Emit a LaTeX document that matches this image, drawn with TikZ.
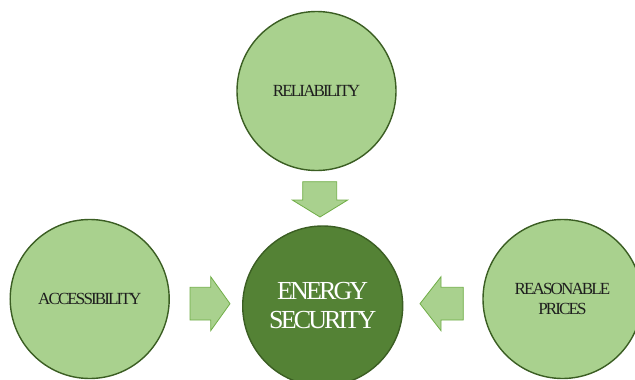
\documentclass[tikz,border=0pt]{standalone}
\usepackage{fontspec}
\setmainfont{Liberation Serif}
\newfontfamily\tightfont{Liberation Serif}[LetterSpace=-11]
\definecolor{lightg}{HTML}{A9D18E}
\definecolor{darkg}{HTML}{548235}
\definecolor{edgeg}{HTML}{3B5E23}
\definecolor{arrowedge}{HTML}{70AD47}
\definecolor{txt}{HTML}{1E1E1E}
\begin{document}
\begin{tikzpicture}[x=1pt,y=-1pt,
  outer/.style={circle,draw=edgeg,line width=1.4pt,fill=lightg,minimum size=159pt,inner sep=0pt,
     text=txt,font=\tightfont\fontsize{17}{20}\selectfont,align=center},
  core/.style={circle,draw=edgeg,line width=1.4pt,fill=darkg,minimum size=160pt,inner sep=0pt,
     text=white,font=\tightfont\fontsize{26}{29}\selectfont,align=center},
  blockarrow/.style={draw=arrowedge,line width=0.8pt,fill=lightg,line join=miter}]
\useasboundingbox (0,0) rectangle (635,380);
\node[outer] (rel) at (316.5,91) {RELIABILITY};
\node[core] (es) at (322.7,306) {ENERGY\\SECURITY};
\node[outer] (acc) at (89.7,299) {ACCESSIBILITY};
\node[outer] (rp) at (562.5,299) {REASONABLE\\PRICES};
% down arrow
\draw[blockarrow] (302.7,181.7) -- (336.7,181.7) -- (336.7,200) -- (347.7,200) -- (320,217)
  -- (292.3,200) -- (302.7,200) -- cycle;
% right-pointing arrow (left)
\draw[blockarrow] (190,287.3) -- (210.7,287.3) -- (210.7,276.7) -- (230,303.7) -- (210.7,330.7)
  -- (210.7,320) -- (190,320) -- cycle;
% left-pointing arrow (right)
\draw[blockarrow] (463.3,287.3) -- (441,287.3) -- (441,276.7) -- (420,303.7) -- (441,330.7)
  -- (441,320) -- (463.3,320) -- cycle;
\end{tikzpicture}
\end{document}
